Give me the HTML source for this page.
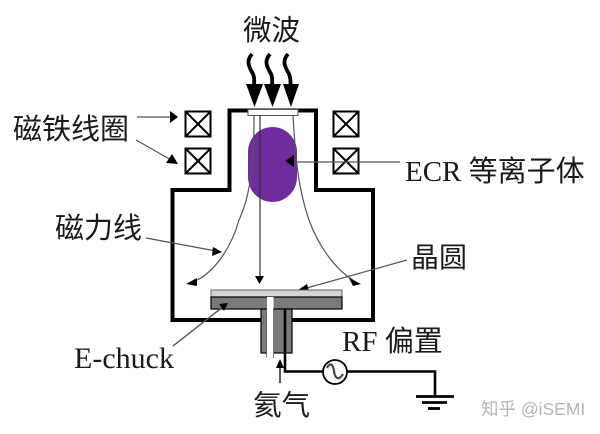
<!DOCTYPE html>
<html><head><meta charset="utf-8"><style>
html,body{margin:0;padding:0;background:#fff}
svg{display:block}
text{font-family:"Liberation Serif","Noto Sans CJK SC",sans-serif;fill:#1a1a1a}
</style></head><body>
<svg width="600" height="434" viewBox="0 0 600 434" xmlns="http://www.w3.org/2000/svg">
<rect x="248" y="127" width="49" height="75" rx="24.500" ry="25" fill="#6f2c9f"/>
<path d="M261 320H172.500V190H229.500V110.500H316V190H373V320H292" fill="none" stroke="#000" stroke-width="4"/>
<rect x="248" y="109.500" width="50" height="6" fill="#fff" stroke="#555" stroke-width="1"/>
<g fill="none" stroke="#000" stroke-width="2">
<rect x="185.500" y="111.500" width="25" height="25"/><path d="M185.500 111.500l25 25M210.500 111.500l-25 25"/>
<rect x="185.500" y="148.500" width="25" height="25"/><path d="M185.500 148.500l25 25M210.500 148.500l-25 25"/>
<rect x="333.500" y="111.500" width="25" height="25"/><path d="M333.500 111.500l25 25M358.500 111.500l-25 25"/>
<rect x="333.500" y="148.500" width="25" height="25"/><path d="M333.500 148.500l25 25M358.500 148.500l-25 25"/>
</g>
<g fill="none" stroke="#000" stroke-width="3.800">
<path d="M252 54C245 62 250 68 253 74C255 78 254 82 254 86"/>
<path d="M270 54C263 62 268 68 271 74C273 78 272 82 272 86"/>
<path d="M288 54C281 62 286 68 289 74C291 78 290 82 291 86"/>
</g>
<path d="M246 84H263L254.500 107ZM264 84H281L272.500 107ZM283 84H299L291 107Z" fill="#000"/>
<g fill="none" stroke="#555" stroke-width="1.200">
<path d="M254 115C254 150 253 190 239 220C232 245 215 275 190 283"/>
<path d="M293 115C295 150 297 185 309 220C318 245 335 270 356 282"/>
<path d="M260 115V277" stroke="#333"/>
<path d="M137 117H172M136 140L173 161M400 162H290M146 238L216 251M407 260L303 289M173 346L224 306"/>
</g>
<g fill="#000">
<path d="M186 284L197 278L197 286Z"/>
<path d="M361 284L349 278L353 286Z"/>
<path d="M259.500 284L255 276H264Z"/>
<path d="M178 117L170 111V123Z"/>
<path d="M178 164L166 163L172 154Z"/>
<path d="M285 161L294 155V167Z"/>
<path d="M222 252L212 256L213 247Z"/>
<path d="M298 290L307 284L309 291Z"/>
</g>
<rect x="211" y="290" width="131" height="7" fill="#d4d4d4" stroke="#666" stroke-width="1"/>
<rect x="211" y="297" width="131" height="12" fill="#7a7a7a" stroke="#000" stroke-width="1.200"/>
<rect x="261" y="309" width="31" height="44" fill="#7a7a7a" stroke="#000" stroke-width="1.200"/>
<rect x="267" y="297" width="6.500" height="61" fill="#fff"/>
<path d="M266.500 309V358M273.500 309V358" stroke="#666" stroke-width="0.800"/>
<path d="M173 346L224 306" fill="none" stroke="#555" stroke-width="1.200"/>
<path d="M228 303L219 304L224 311Z" fill="#000"/>
<path d="M285 309V371.500H435V396" fill="none" stroke="#000" stroke-width="2.600"/>
<path d="M416 396.500H454" stroke="#000" stroke-width="2.800"/>
<path d="M422 402.500H447" stroke="#000" stroke-width="2.800"/>
<path d="M428 408.500H440" stroke="#000" stroke-width="2.800"/>
<circle cx="335" cy="372" r="12" fill="#fff" stroke="#000" stroke-width="1.800"/>
<path d="M327 368C330 362 333 364 334 371C335 379 339 381 343 374" fill="none" stroke="#444" stroke-width="2.200"/>
<path d="M280 383V366" stroke="#222" stroke-width="1.500"/>
<path d="M280 359L276 368H284Z" fill="#000"/>
<text x="243" y="40" font-size="28.500">微波</text>
<text x="13" y="139" font-size="29">磁铁线圈</text>
<text x="55" y="238" font-size="29">磁力线</text>
<text x="405" y="181" font-size="29">ECR 等离子体</text>
<text x="411" y="267" font-size="28">晶圆</text>
<text x="74" y="368" font-size="30">E-chuck</text>
<text x="342" y="351" font-size="29">RF 偏置</text>
<text x="253" y="415" font-size="28.500">氦气</text>
<text x="481" y="415" font-size="17.500" style="fill:#b5b5b5;font-family:'Liberation Sans','Noto Sans CJK SC',sans-serif">知乎 @iSEMI</text>
</svg>
</body></html>
